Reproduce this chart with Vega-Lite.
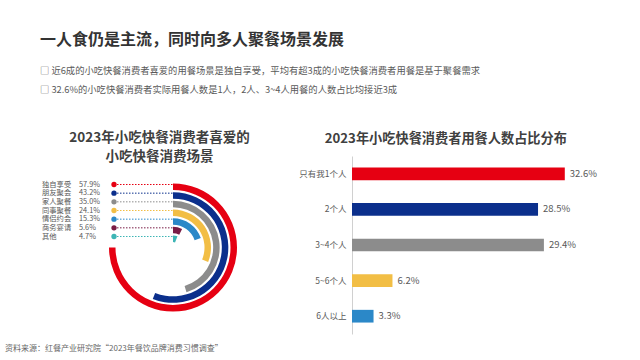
{
  "$schema": "https://vega.github.io/schema/vega-lite/v6.json",
  "background": "white",
  "padding": {"left": 5, "top": 31, "right": 0, "bottom": 0},
  "config": {"font": "Noto Sans CJK SC", "view": {"stroke": null}},
  "title": {
    "text": "一人食仍是主流，同时向多人聚餐场景发展",
    "subtitle": ["□  近6成的小吃快餐消费者喜爱的用餐场景是独自享受，平均有超3成的小吃快餐消费者用餐是基于聚餐需求", "□  32.6%的小吃快餐消费者实际用餐人数是1人，2人、3~4人用餐的人数占比均接近3成"],
    "anchor": "start",
    "frame": "group",
    "dx": 35,
    "fontSize": 16,
    "fontWeight": "bold",
    "color": "#333333",
    "subtitleColor": "#595959",
    "subtitleFontSize": 9.3,
    "subtitlePadding": 19,
    "subtitleLineHeight": 19,
    "offset": 36
  },
  "vconcat": [
    {
      "title": {
        "text": "资料来源：红餐产业研究院“2023年餐饮品牌消费习惯调查”",
        "orient": "bottom",
        "anchor": "start",
        "frame": "bounds",
        "fontSize": 8,
        "fontWeight": "normal",
        "color": "#666666",
        "offset": 6
      },
      "spacing": 8,
      "hconcat": [
        {
          "width": 285,
          "height": 183,
          "title": {
            "text": ["2023年小吃快餐消费者喜爱的", "小吃快餐消费场景"],
            "fontSize": 13.5,
            "fontWeight": "bold",
            "color": "#404040",
            "lineHeight": 18.5,
            "dx": 12,
            "offset": -7
          },
          "data": {
            "values": [
              {"scene": "独自享受", "share": 0.579},
              {"scene": "朋友聚会", "share": 0.432},
              {"scene": "家人聚餐", "share": 0.350},
              {"scene": "同事聚餐", "share": 0.241},
              {"scene": "情侣约会", "share": 0.153},
              {"scene": "商务宴请", "share": 0.056},
              {"scene": "其他", "share": 0.047}
            ]
          },
          "transform": [{"window": [{"op": "row_number", "as": "rank"}]}],
          "layer": [
            {
              "mark": {"type": "arc", "radius2Offset": -6.5},
              "encoding": {
                "x": {"datum": 0, "type": "quantitative", "scale": {"type": "linear", "domain": [-168, 117], "nice": false, "zero": false}, "axis": null},
                "theta": {"field": "share", "type": "quantitative", "scale": {"type": "linear", "domain": [0, 0.772], "range": [0, 6.2832], "nice": false}},
                "theta2": {"datum": 0},
                "radius": {"field": "rank", "type": "quantitative", "scale": {"type": "linear", "domain": [1, 7], "range": [64, 12], "zero": false, "nice": false}},
                "radius2": {"field": "rank"},
                "color": {"field": "scene", "type": "nominal", "sort": null, "scale": {"domain": ["独自享受", "朋友聚会", "家人聚餐", "同事聚餐", "情侣约会", "商务宴请", "其他"], "range": ["#E60012", "#0B2F8C", "#8C8C8C", "#F2BE45", "#2B88C8", "#7A1C45", "#3DB5B5"]}, "legend": null}
              }
            },
            {
              "mark": {"type": "rule", "strokeWidth": 1, "strokeDash": [1.5, 1.5]},
              "encoding": {
                "x": {"datum": -59, "type": "quantitative", "axis": null},
                "x2": {"datum": 0},
                "y": {"field": "rank", "type": "quantitative", "scale": {"type": "linear", "domain": [1, 7], "range": [28.5, 80.5], "zero": false, "nice": false}, "axis": null},
                "color": {"field": "scene", "type": "nominal", "legend": null}
              }
            },
            {
              "mark": {"type": "circle", "size": 28, "opacity": 1},
              "encoding": {
                "x": {"datum": -59, "type": "quantitative", "axis": null},
                "y": {"field": "rank", "type": "quantitative", "axis": null},
                "color": {"field": "scene", "type": "nominal", "legend": null}
              }
            },
            {
              "mark": {"type": "text", "align": "left", "baseline": "middle", "fontSize": 7.3, "color": "#595959"},
              "encoding": {
                "x": {"datum": -131, "type": "quantitative", "axis": null},
                "y": {"field": "rank", "type": "quantitative", "axis": null},
                "text": {"field": "scene"}
              }
            },
            {
              "mark": {"type": "text", "align": "left", "baseline": "middle", "fontSize": 7.3, "color": "#595959"},
              "encoding": {
                "x": {"datum": -94, "type": "quantitative", "axis": null},
                "y": {"field": "rank", "type": "quantitative", "axis": null},
                "text": {"field": "share", "format": ".1%"}
              }
            }
          ]
        },
        {
          "width": 250,
          "height": 178,
          "title": {
            "text": "2023年小吃快餐消费者用餐人数占比分布",
            "fontSize": 13.2,
            "fontWeight": "bold",
            "color": "#404040",
            "anchor": "start",
            "frame": "bounds",
            "dx": 26,
            "offset": 10
          },
          "data": {
            "values": [
              {"group": "只有我1个人", "share": 0.326},
              {"group": "2个人", "share": 0.285},
              {"group": "3~4个人", "share": 0.294},
              {"group": "5~6个人", "share": 0.062},
              {"group": "6人以上", "share": 0.033}
            ]
          },
          "encoding": {
            "y": {"field": "group", "type": "nominal", "sort": null, "scale": {"paddingInner": 0, "paddingOuter": 0}, "axis": {"title": null, "ticks": false, "labelFontSize": 8.5, "labelColor": "#595959", "domainColor": "#d0d0d0", "labelPadding": 6}},
            "x": {"field": "share", "type": "quantitative", "scale": {"type": "linear", "domain": [0, 0.383], "nice": false, "zero": true}, "axis": null}
          },
          "layer": [
            {
              "mark": {"type": "bar", "size": 12.7},
              "encoding": {
                "color": {"field": "group", "type": "nominal", "sort": null, "scale": {"domain": ["只有我1个人", "2个人", "3~4个人", "5~6个人", "6人以上"], "range": ["#E60012", "#0B2F8C", "#8C8C8C", "#F0A830", "#1E8FC6"]}, "legend": null}
              }
            },
            {
              "mark": {"type": "text", "align": "left", "baseline": "middle", "dx": 5, "fontSize": 9.5, "color": "#595959"},
              "encoding": {"text": {"field": "share", "format": ".1%"}}
            }
          ]
        }
      ]
    }
  ]
}
